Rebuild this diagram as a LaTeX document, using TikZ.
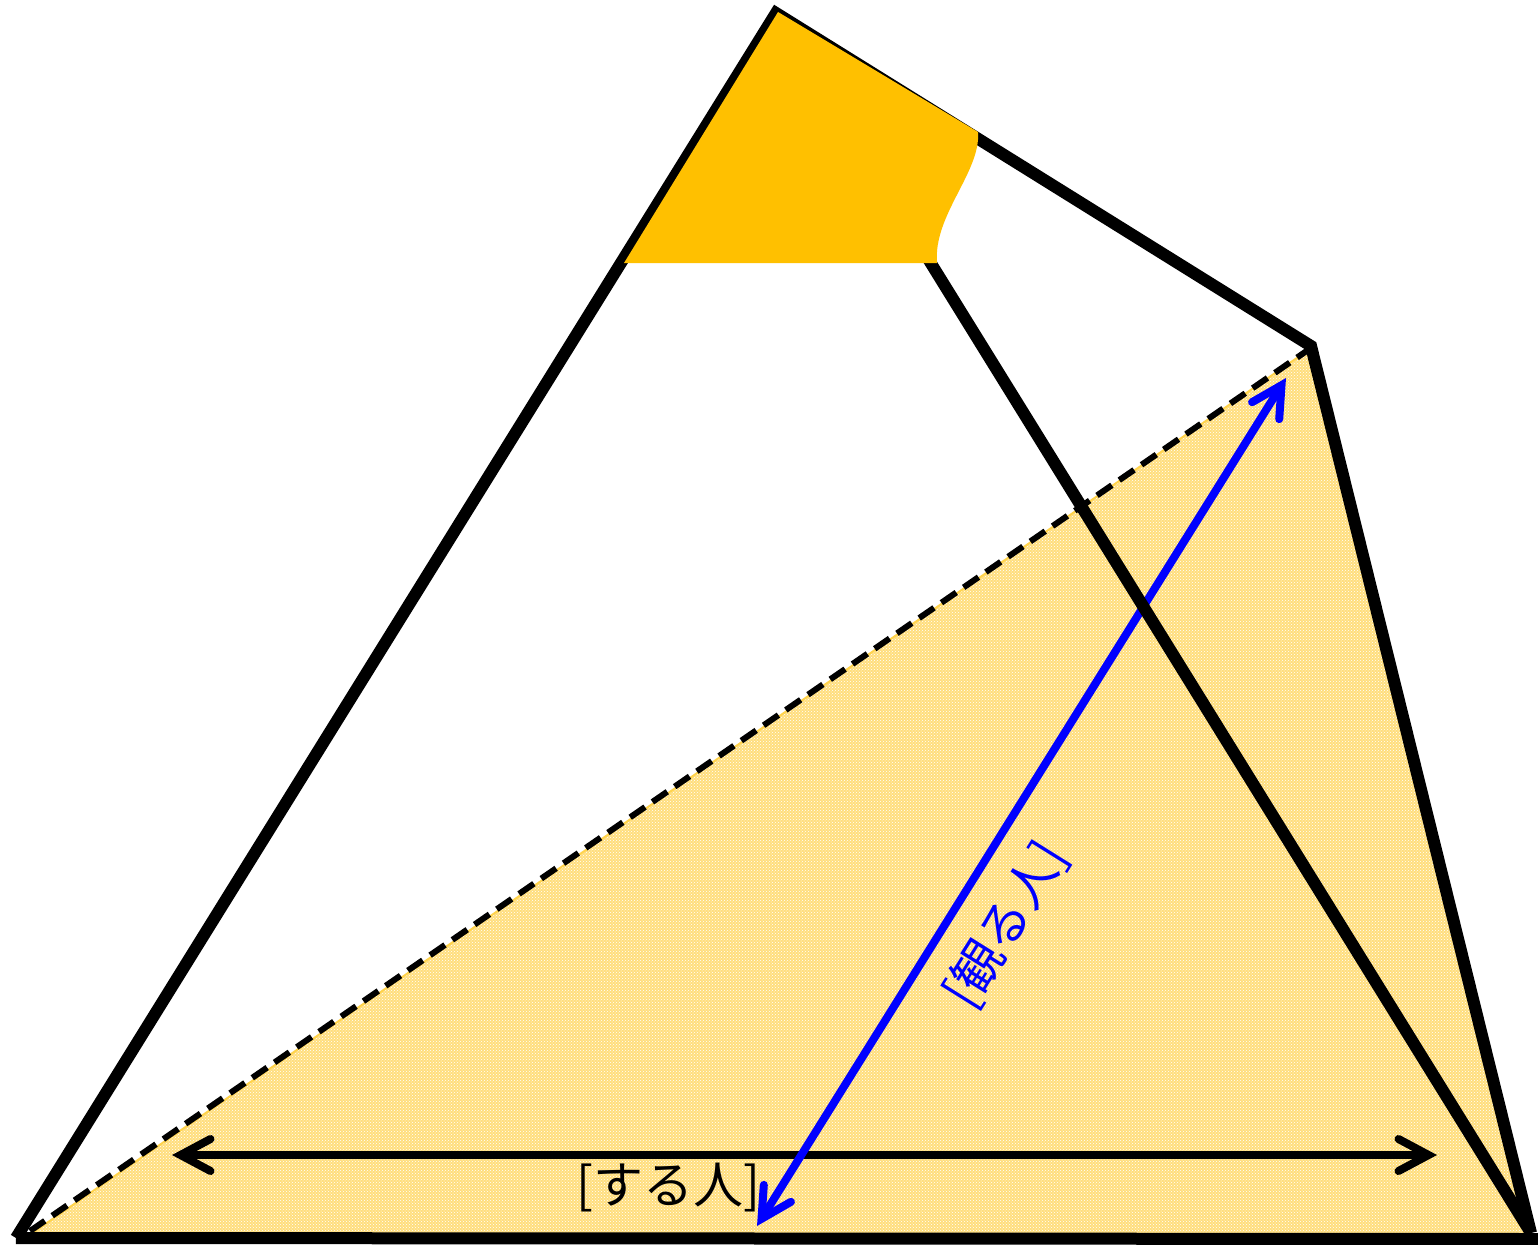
\documentclass[tikz,border=0pt]{standalone}
\usepackage{fontspec}
\newfontfamily\jp{Noto Sans CJK JP}
\usetikzlibrary{arrows.meta,patterns}
\definecolor{gold}{RGB}{255,192,0}
\definecolor{paleg}{RGB}{255,222,125}
\tikzset{
  outline/.style={line width=12pt, draw=black},
  dimarrow/.style={line width=8pt, line cap=round, {Straight Barb[length=30pt,width=32pt,line cap=round]}-{Straight Barb[length=30pt,width=32pt,line cap=round]}},
  lbl/.style={font=\jp\fontsize{50}{56}\selectfont, inner sep=0pt}
}
\begin{document}
\begin{tikzpicture}[x=1pt,y=-1pt]
\useasboundingbox (0,0) rectangle (1538,1244);
% vertices
\coordinate (A) at (16,1238);
\coordinate (T) at (776,13);
\coordinate (R) at (1311,346);
\coordinate (B) at (1531,1233);
\coordinate (E) at (1545,1239);
\coordinate (S1) at (28,1236);
\coordinate (S2) at (1307,351);
\coordinate (S3) at (1527,1236);
\coordinate (D1) at (30,1231);
\coordinate (D2) at (1308,350);
\coordinate (Y1) at (624,263);
\coordinate (Y2) at (778,12);
\coordinate (Y3) at (978,132);
\coordinate (Y4) at (937,263);
\coordinate (H1) at (172,1155);
\coordinate (H2) at (1437,1155);
\coordinate (V1) at (757,1226);
\coordinate (V2) at (1286,378);
% shaded plane
\fill[paleg] (S1) -- (S2) -- (S3) -- cycle;
\fill[pattern=crosshatch dots, pattern color=white] (S1) -- (S2) -- (S3) -- cycle;
\draw[gold!70, line width=2pt] (S1) -- (S2);
% horizontal arrow
\draw[dimarrow, black] (H1) -- (H2);
% blue arrow
\draw[dimarrow, blue] (V1) -- (V2);
% outline
\draw[outline] (A) -- (T) -- (R) -- (B);
\draw[outline] (T) -- (B);
\draw[outline] (A) -- (E);
% dashed diagonal
\draw[line width=6pt, dash pattern=on 18pt off 9pt] (D1) -- (D2);
% top yellow cap
\fill[gold] (Y1) -- (Y2) -- (Y3) .. controls (981,172) and (933,215) .. (Y4) -- cycle;
% labels
\node[lbl] (doer) at (668,1188) {[する人]};
\node[lbl, text=blue, rotate=58] (viewer) at (1006,925) {[観る人]};
\end{tikzpicture}
\end{document}
